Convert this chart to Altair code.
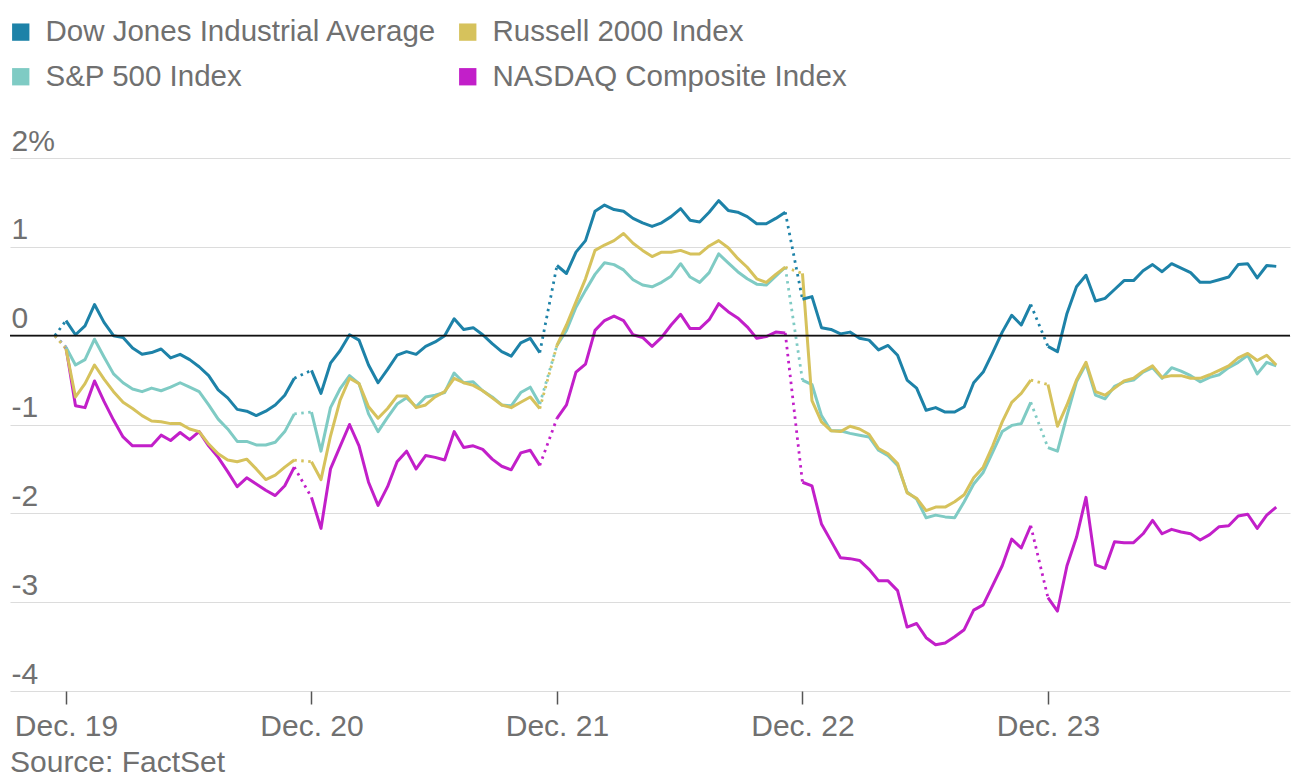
import altair as alt
import pandas as pd

# ---- data (percent change, sampled evenly through each trading session) ----
series_names = ["Dow Jones Industrial Average", "S&P 500 Index",
                "Russell 2000 Index", "NASDAQ Composite Index"]
series_colors = ["#1d82a8", "#7fcbc4", "#d6c25c", "#c21fc9"]
day_labels = ["Dec. 19", "Dec. 20", "Dec. 21", "Dec. 22", "Dec. 23"]
y_labels = ["-4", "-3", "-2", "-1", "0", "1", "2%"]
source_note = "Source: FactSet"

dow = [
    [0.17, 0.01, 0.11, 0.35, 0.15, 0.0, -0.02, -0.14, -0.21, -0.19, -0.15, -0.25, -0.21, -0.27, -0.35, -0.45, -0.61, -0.70, -0.83, -0.85, -0.90, -0.85, -0.78, -0.67, -0.48],
    [-0.39, -0.65, -0.31, -0.17, 0.01, -0.05, -0.33, -0.53, -0.38, -0.22, -0.18, -0.21, -0.12, -0.07, 0.0, 0.19, 0.07, 0.09, 0.01, -0.09, -0.18, -0.23, -0.08, -0.03, -0.19],
    [0.79, 0.70, 0.94, 1.07, 1.40, 1.47, 1.42, 1.40, 1.32, 1.27, 1.23, 1.27, 1.34, 1.43, 1.30, 1.28, 1.39, 1.52, 1.41, 1.39, 1.34, 1.26, 1.26, 1.32, 1.39],
    [0.41, 0.44, 0.09, 0.07, 0.02, 0.04, -0.03, -0.05, -0.16, -0.11, -0.22, -0.50, -0.59, -0.84, -0.81, -0.86, -0.86, -0.80, -0.53, -0.41, -0.19, 0.04, 0.23, 0.12, 0.35],
    [-0.12, -0.18, 0.25, 0.55, 0.68, 0.39, 0.42, 0.52, 0.62, 0.62, 0.73, 0.80, 0.72, 0.81, 0.76, 0.71, 0.60, 0.60, 0.63, 0.66, 0.80, 0.81, 0.65, 0.79, 0.78],
]
sp500 = [
    [-0.13, -0.33, -0.27, -0.04, -0.24, -0.43, -0.53, -0.60, -0.63, -0.59, -0.62, -0.58, -0.53, -0.58, -0.63, -0.78, -0.94, -1.05, -1.19, -1.19, -1.23, -1.23, -1.20, -1.08, -0.88],
    [-0.86, -1.30, -0.81, -0.60, -0.45, -0.54, -0.88, -1.08, -0.92, -0.77, -0.70, -0.80, -0.69, -0.67, -0.64, -0.42, -0.53, -0.52, -0.62, -0.69, -0.78, -0.79, -0.64, -0.58, -0.77],
    [-0.11, 0.06, 0.32, 0.51, 0.69, 0.82, 0.80, 0.74, 0.63, 0.57, 0.55, 0.60, 0.67, 0.81, 0.66, 0.60, 0.71, 0.92, 0.82, 0.72, 0.64, 0.58, 0.57, 0.67, 0.77],
    [-0.50, -0.55, -0.90, -1.07, -1.07, -1.10, -1.12, -1.14, -1.29, -1.35, -1.46, -1.76, -1.84, -2.05, -2.02, -2.04, -2.05, -1.87, -1.67, -1.54, -1.31, -1.08, -1.01, -0.99, -0.75],
    [-1.26, -1.30, -0.90, -0.52, -0.32, -0.67, -0.71, -0.57, -0.52, -0.50, -0.41, -0.36, -0.48, -0.36, -0.40, -0.45, -0.52, -0.47, -0.44, -0.36, -0.30, -0.22, -0.43, -0.30, -0.34],
]
russell = [
    [-0.15, -0.69, -0.54, -0.33, -0.49, -0.63, -0.75, -0.82, -0.90, -0.96, -0.97, -0.99, -0.99, -1.05, -1.08, -1.22, -1.33, -1.40, -1.42, -1.39, -1.50, -1.62, -1.57, -1.48, -1.40],
    [-1.42, -1.62, -1.13, -0.73, -0.48, -0.54, -0.80, -0.93, -0.82, -0.68, -0.68, -0.81, -0.78, -0.69, -0.63, -0.48, -0.53, -0.56, -0.62, -0.70, -0.78, -0.81, -0.75, -0.69, -0.82],
    [-0.11, 0.12, 0.38, 0.64, 0.96, 1.02, 1.07, 1.15, 1.04, 0.96, 0.89, 0.94, 0.94, 0.96, 0.92, 0.92, 1.01, 1.07, 0.99, 0.87, 0.77, 0.64, 0.60, 0.69, 0.77],
    [0.70, -0.73, -0.97, -1.07, -1.08, -1.02, -1.05, -1.11, -1.27, -1.33, -1.44, -1.77, -1.83, -1.97, -1.93, -1.93, -1.87, -1.79, -1.60, -1.48, -1.24, -0.97, -0.75, -0.65, -0.50],
    [-0.55, -1.02, -0.78, -0.50, -0.30, -0.63, -0.67, -0.59, -0.51, -0.48, -0.40, -0.34, -0.47, -0.45, -0.45, -0.48, -0.48, -0.44, -0.39, -0.34, -0.25, -0.20, -0.28, -0.22, -0.33],
]
nasdaq = [
    [-0.13, -0.79, -0.81, -0.51, -0.74, -0.95, -1.14, -1.24, -1.24, -1.24, -1.12, -1.18, -1.09, -1.17, -1.08, -1.24, -1.37, -1.53, -1.70, -1.60, -1.67, -1.74, -1.80, -1.69, -1.48],
    [-1.82, -2.17, -1.50, -1.25, -1.00, -1.24, -1.65, -1.91, -1.70, -1.42, -1.30, -1.50, -1.35, -1.37, -1.40, -1.08, -1.26, -1.24, -1.28, -1.39, -1.47, -1.51, -1.32, -1.29, -1.46],
    [-0.93, -0.78, -0.41, -0.32, 0.06, 0.17, 0.22, 0.17, 0.01, -0.02, -0.12, -0.02, 0.12, 0.24, 0.08, 0.08, 0.18, 0.36, 0.27, 0.20, 0.10, -0.03, -0.01, 0.04, 0.03],
    [-1.65, -1.69, -2.12, -2.31, -2.50, -2.51, -2.53, -2.63, -2.76, -2.76, -2.87, -3.28, -3.24, -3.40, -3.48, -3.46, -3.39, -3.31, -3.09, -3.03, -2.81, -2.59, -2.29, -2.39, -2.14],
    [-2.95, -3.10, -2.59, -2.27, -1.82, -2.58, -2.62, -2.32, -2.33, -2.33, -2.23, -2.08, -2.23, -2.18, -2.21, -2.23, -2.30, -2.24, -2.15, -2.14, -2.03, -2.01, -2.17, -2.02, -1.93],
]
prev_close = 0.0
series_values = dict(zip(series_names, [dow, sp500, russell, nasdaq]))
draw_order = ["NASDAQ Composite Index", "S&P 500 Index", "Russell 2000 Index",
              "Dow Jones Industrial Average"]

# trading session occupies this fraction of each day slot; overnight gap is dotted
SESSION_FRAC = 0.93
PREV_CLOSE_X = -0.045

solid_rows, dot_rows = [], []
for name in draw_order:
    days = series_values[name]
    last = (PREV_CLOSE_X, prev_close)
    for d, vals in enumerate(days):
        n = len(vals)
        pts = [(d + SESSION_FRAC * k / (n - 1), v) for k, v in enumerate(vals)]
        seg = f"{name}|{d}"
        for x, v in pts:
            solid_rows.append({"series": name, "seg": seg, "x": x, "v": v})
        for x, v in (last, pts[0]):
            dot_rows.append({"series": name, "seg": seg, "x": x, "v": v})
        last = pts[-1]

solid_df = pd.DataFrame(solid_rows)
dot_df = pd.DataFrame(dot_rows)
zero_df = pd.DataFrame({"v": [0.0]})
legend_df = pd.DataFrame({"series": series_names})

FONT = "Liberation Sans"
LABEL_COLOR = "#707070"
FS = 30
LEG_FS = 29.5

x_expr = "[" + ",".join(f"'{s}'" for s in day_labels) + "][datum.value]"
y_expr = "[" + ",".join(f"'{s}'" for s in y_labels) + "][datum.value + 4]"

x_enc = alt.X(
    "x:Q",
    scale=alt.Scale(domain=[-0.228, 4.986], nice=False, zero=False),
    axis=alt.Axis(values=list(range(len(day_labels))), labelExpr=x_expr, title=None,
                  grid=False, domain=False, ticks=True, tickSize=13, tickWidth=1.5,
                  tickColor="#555555", labelFontSize=FS, labelFont=FONT,
                  labelColor=LABEL_COLOR, labelPadding=7, labelFlush=False,
                  labelOverlap=False),
)
y_enc = alt.Y(
    "v:Q",
    scale=alt.Scale(domain=[-4, 2], nice=False, zero=False),
    axis=alt.Axis(values=list(range(-4, 3)), labelExpr=y_expr, title=None,
                  grid=True, gridColor="#dcdcdc", gridWidth=1.2, domain=False,
                  ticks=False, tickSize=0, labelAlign="left", labelBaseline="alphabetic",
                  labelPadding=-1, labelOffset=-8, labelFontSize=FS, labelFont=FONT,
                  labelColor=LABEL_COLOR, labelFlush=False, labelOverlap=False),
)
color_scale = alt.Scale(domain=series_names, range=series_colors)

dots = alt.Chart(dot_df).mark_line(strokeWidth=2.8, strokeDash=[2.5, 4.5]).encode(
    x=x_enc, y=y_enc,
    color=alt.Color("series:N", scale=color_scale, legend=None),
    detail="seg:N",
)
lines = alt.Chart(solid_df).mark_line(strokeWidth=3, strokeJoin="round").encode(
    x=x_enc, y=y_enc,
    color=alt.Color("series:N", scale=color_scale, legend=None),
    detail="seg:N",
    order="x:Q",
)
zero = alt.Chart(zero_df).mark_rule(color="#111111", strokeWidth=1.6).encode(y=y_enc)
legend_layer = alt.Chart(legend_df).mark_square(size=0, filled=True, opacity=1).encode(
    color=alt.Color(
        "series:N", scale=color_scale,
        legend=alt.Legend(title=None, orient="none", legendX=-4, legendY=-141,
                          columns=2, columnPadding=16, rowPadding=14,
                          symbolType="square", symbolSize=300, symbolStrokeWidth=0,
                          symbolOpacity=1, labelFontSize=LEG_FS, labelFont=FONT,
                          labelColor=LABEL_COLOR, labelOffset=10, labelLimit=2000),
    )
)

chart = alt.layer(dots, lines, zero, legend_layer).resolve_legend(
    color="independent"
).properties(
    width=1280, height=533,
    background="white",
    padding={"left": 10, "top": 158, "right": 3, "bottom": 87},
    autosize=alt.AutoSizeParams(type="none"),
    title=alt.TitleParams(source_note, orient="bottom", anchor="start", frame="group",
                          fontSize=FS, font=FONT, color=LABEL_COLOR,
                          fontWeight="normal", offset=7),
).configure_view(strokeWidth=0)

chart.save("out.html", embed_options={"renderer": "svg", "actions": False})
